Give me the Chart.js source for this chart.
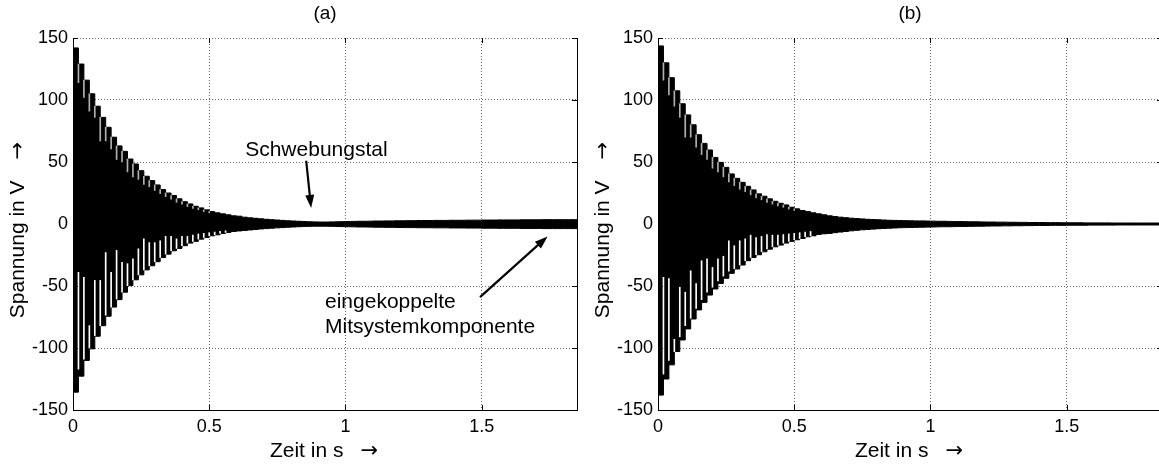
<!DOCTYPE html>
<html>
<head>
<meta charset="utf-8">
<script src="https://cdn.jsdelivr.net/npm/chart.js"></script>
<style>
  html, body { margin: 0; padding: 0; background: #fff; overflow: hidden; width: 1159px; height: 464px; }
  canvas { position: absolute; top: 0; }
  #chartA { left: 0; }
  #chartB { left: 585px; }
</style>
</head>
<body>
<canvas id="chartA" width="590" height="464"></canvas>
<canvas id="chartB" width="590" height="464"></canvas>
<script>
// one value per 50 Hz period (0.02 s)
const sampleStep = 0.02;

const upperA = [142, 129, 116, 105, 95, 86, 78, 70, 63, 58.6, 52.4, 48.4, 43, 38.5, 35, 31.5, 27.8, 25, 23, 20.3,
  18, 16.2, 14.3, 13, 11.4, 10, 9, 8.2, 7.4, 6.6, 6.3, 5.5,
  5.0, 4.6, 4.2, 3.8, 3.5, 3.2, 2.9, 2.6, 2.4, 2.2,
  2.0, 1.8, 1.7, 1.6, 1.6, 1.7, 1.8, 1.9, 2.0, 2.1,
  2.2, 2.2, 2.3, 2.4, 2.4, 2.5, 2.5, 2.6, 2.6, 2.7,
  2.7, 2.8, 2.8, 2.8, 2.9, 2.9, 2.9, 3.0, 3.0, 3.0,
  3.1, 3.1, 3.1, 3.2, 3.2, 3.2, 3.3, 3.3, 3.3, 3.3,
  3.4, 3.4, 3.4, 3.4, 3.5, 3.5, 3.5, 3.5, 3.5, 3.5, 3.5];
const lowerA = [-135.6, -122.7, -110, -100.7, -90.5, -82, -74.4, -67, -61, -55, -49.7, -45, -41, -37, -33.7, -30.4,
  -27, -24.3, -21.6, -19.7, -17.5, -15.4, -14, -12.2, -10.9, -9.5, -8.7, -7.6, -6.8, -6, -5.6, -5.2,
  -4.8, -4.4, -4.0, -3.7, -3.4, -3.1, -2.9, -2.6, -2.4, -2.2,
  -2.0, -1.9, -1.8, -1.8, -1.8, -1.9, -2.0, -2.1, -2.2, -2.3,
  -2.4, -2.4, -2.5, -2.6, -2.6, -2.7, -2.7, -2.8, -2.8, -2.9,
  -2.9, -3.0, -3.0, -3.0, -3.1, -3.1, -3.1, -3.2, -3.2, -3.2,
  -3.3, -3.3, -3.3, -3.4, -3.4, -3.4, -3.5, -3.5, -3.5, -3.5,
  -3.6, -3.6, -3.6, -3.6, -3.7, -3.7, -3.7, -3.7, -3.7, -3.7, -3.7];

const upperB = [143.6, 130, 118, 107.4, 97, 88, 80, 72, 65, 59.7, 53.7, 49.7, 45.7, 40.4, 36.8, 33.6, 30.4, 27.5,
  24.3, 22.4, 20.3, 18.3, 16.7, 15.4, 13.5, 12.2, 10.9, 10, 9, 8.2, 7.4, 6.6,
  6.0, 5.5, 5.1, 4.7, 4.4, 4.1, 3.8, 3.6, 3.4, 3.2,
  3.0, 2.9, 2.8, 2.7, 2.6, 2.5, 2.5, 2.4, 2.3, 2.2,
  2.2, 2.1, 2.0, 2.0, 1.9, 1.8, 1.8, 1.7, 1.6, 1.6,
  1.5, 1.5, 1.4, 1.4, 1.3, 1.3, 1.2, 1.2, 1.2, 1.1,
  1.1, 1.1, 1.0, 1.0, 1.0, 1.0, 0.9, 0.9, 0.9, 0.9,
  0.9, 0.8, 0.8, 0.8, 0.8, 0.8, 0.8, 0.8, 0.8, 0.8, 0.8];
const lowerB = [-138, -125, -113.6, -102.8, -93.5, -84.6, -76.6, -69.3, -63.2, -57.3, -52.4, -47.9, -43.8, -39.8,
  -36.3, -33.1, -29.6, -27, -24.8, -22.4, -20.3, -18.4, -17, -15.4, -14, -12.7, -11.7, -10.3, -9.5, -8.4, -7.9, -7.6,
  -7.0, -6.5, -6.0, -5.5, -5.1, -4.7, -4.4, -4.1, -3.8, -3.6,
  -3.4, -3.2, -3.0, -2.9, -2.8, -2.7, -2.6, -2.5, -2.4, -2.3,
  -2.2, -2.2, -2.1, -2.0, -2.0, -1.9, -1.8, -1.8, -1.7, -1.6,
  -1.6, -1.5, -1.5, -1.4, -1.4, -1.3, -1.3, -1.2, -1.2, -1.2,
  -1.1, -1.1, -1.1, -1.0, -1.0, -1.0, -1.0, -0.9, -0.9, -0.9,
  -0.9, -0.9, -0.8, -0.8, -0.8, -0.8, -0.8, -0.8, -0.8, -0.8, -0.8];

// light gaps between periods (from period 1 on), [from, to] in V
const gapsUpA = [[114, 129], [102, 116], [91, 105], [86, 95], [67, 86], [67, 78], [60.5, 70], [52, 63], [50, 58.6],
  [42, 52.4], [38, 48.4], [36, 43], [32, 38.5], [30, 35], [27, 31.5], [24.5, 27.8], [22, 25], [20, 23],
  [17.5, 20.3], [16, 18], [14, 16.2], [12.5, 14.3], [11.5, 13], [10, 11.4], [9, 10]];
const gapsLowA = [[-117, -39], [-109, -43], [-100, -82], [-90, -45.5], [-82, -45.5], [-73.6, -23], [-67, -39],
  [-60.5, -21.3], [-55, -31], [-49.7, -32], [-45, -28], [-41, -20], [-37, -12], [-33.7, -15], [-30.4, -15],
  [-27, -13.5], [-24.3, -10], [-21.6, -10], [-19.7, -12], [-17.5, -10], [-15.4, -10], [-14, -9], [-12.2, -8],
  [-10.9, -7.5], [-9.5, -7], [-8.7, -6.5], [-7.6, -6], [-6.8, -5.5]];
const gapsUpB = [[116, 130], [104, 118], [95, 107.4], [86, 97], [70, 88], [70, 80], [62, 72], [56, 65], [52, 59.7],
  [45, 53.7], [42, 49.7], [38, 45.7], [34, 40.4], [31, 36.8], [28, 33.6], [26, 30.4], [23.5, 27.5], [21, 24.3],
  [19.5, 22.4], [17.5, 20.3], [16, 18.3], [14.5, 16.7], [13.5, 15.4], [12, 13.5], [11, 12.2]];
const gapsLowB = [[-121, -43], [-110, -44], [-103, -93], [-91, -51], [-82, -55], [-76, -37.7], [-68, -48],
  [-61, -29.6], [-55, -28], [-51, -35], [-46, -28], [-42, -26], [-38, -13.5], [-36, -17.5], [-33, -13.5],
  [-29.6, -12], [-27, -9], [-24.8, -11], [-22.4, -10], [-20, -8.5], [-18.4, -9], [-17, -9], [-15.4, -8.5],
  [-14, -8], [-12.7, -7.5], [-11.7, -7], [-10.3, -6.5], [-9.5, -6]];

const xTicks = [0, 0.5, 1, 1.5];
const yTicks = [-150, -100, -50, 0, 50, 100, 150];
const xLabel = 'Zeit in s';
const yLabel = 'Spannung in V';
const axisArrow = '\u2192';

// annotation texts of panel (a), anchored in data units (s, V)
const notesA = [
  { text: 'Schwebungstal', x: 0.632, y: 55 },
  { text: 'eingekoppelte', x: 0.925, y: -68 },
  { text: 'Mitsystemkomponente', x: 0.925, y: -87.5 }
];
const arrowsA = [
  { from: [0.856, 51], to: [0.874, 13] },
  { from: [1.494, -59], to: [1.742, -10] }
];

const FONT = '"Liberation Sans", Arial, Helvetica, sans-serif';
const ARROW_FONT = '"DejaVu Sans", sans-serif';
Chart.defaults.font.family = FONT;
Chart.defaults.color = '#000';

function toPoints(values) {
  const pts = values.map((v, i) => ({ x: i * sampleStep, y: v }));
  pts.push({ x: values.length * sampleStep, y: values[values.length - 1] });
  return pts;
}

function gapPoints(ranges) {
  return ranges.map((r, i) => ({ x: (i + 1) * sampleStep, y: r }));
}

function labelWithArrow(ctx, text, gap) {
  ctx.font = '21px ' + FONT;
  const w1 = ctx.measureText(text).width;
  ctx.font = '21px ' + ARROW_FONT;
  const w2 = ctx.measureText(axisArrow).width;
  const start = -(w1 + gap + w2) / 2;
  ctx.font = '21px ' + FONT;
  ctx.fillText(text, start, 0);
  ctx.font = '21px ' + ARROW_FONT;
  ctx.fillText(axisArrow, start + w1 + gap, 1);
}

const frame = {
  id: 'frame',
  afterDatasetsDraw(chart, args, opts) {
    const { ctx, chartArea: a, scales: { x, y } } = chart;
    ctx.save();
    ctx.strokeStyle = '#000';
    ctx.lineWidth = 1;
    ctx.beginPath();
    ctx.moveTo(a.left + 0.5, a.top);
    ctx.lineTo(a.left + 0.5, a.bottom + 0.5);
    ctx.lineTo(a.right + 0.5, a.bottom + 0.5);
    ctx.lineTo(a.right + 0.5, a.top);
    yTicks.forEach(v => {
      const py = Math.round(y.getPixelForValue(v)) + 0.5;
      ctx.moveTo(a.left, py); ctx.lineTo(a.left + 5, py);
      ctx.moveTo(a.right, py); ctx.lineTo(a.right - 5, py);
    });
    xTicks.forEach(v => {
      const px = Math.round(x.getPixelForValue(v)) + 0.5;
      ctx.moveTo(px, a.bottom); ctx.lineTo(px, a.bottom - 5);
      ctx.moveTo(px, a.top); ctx.lineTo(px, a.top + 5);
    });
    ctx.stroke();

    ctx.fillStyle = '#000';
    // panel title
    ctx.font = '19px ' + FONT;
    ctx.textAlign = 'center';
    ctx.textBaseline = 'middle';
    ctx.fillText(opts.title, (a.left + a.right) / 2, 14);

    // axis titles with arrow
    ctx.textAlign = 'left';
    ctx.save();
    ctx.translate((a.left + a.right) / 2 - 1, 451);
    labelWithArrow(ctx, xLabel, 17);
    ctx.restore();
    ctx.save();
    ctx.translate(18, (a.top + a.bottom) / 2 + 6);
    ctx.rotate(-Math.PI / 2);
    labelWithArrow(ctx, yLabel, 21);
    ctx.restore();

    // annotations
    ctx.font = '21px ' + FONT;
    ctx.textBaseline = 'alphabetic';
    (opts.notes || []).forEach(n => {
      ctx.fillText(n.text, x.getPixelForValue(n.x), y.getPixelForValue(n.y));
    });
    (opts.arrows || []).forEach(ar => {
      const x0 = x.getPixelForValue(ar.from[0]), y0 = y.getPixelForValue(ar.from[1]);
      const x1 = x.getPixelForValue(ar.to[0]), y1 = y.getPixelForValue(ar.to[1]);
      const ang = Math.atan2(y1 - y0, x1 - x0);
      const head = 13, half = 4.5;
      ctx.lineWidth = 2.2;
      ctx.beginPath();
      ctx.moveTo(x0, y0);
      ctx.lineTo(x1 - Math.cos(ang) * head * 0.8, y1 - Math.sin(ang) * head * 0.8);
      ctx.stroke();
      ctx.beginPath();
      ctx.moveTo(x1, y1);
      ctx.lineTo(x1 - Math.cos(ang) * head - Math.sin(ang) * half, y1 - Math.sin(ang) * head + Math.cos(ang) * half);
      ctx.lineTo(x1 - Math.cos(ang) * head + Math.sin(ang) * half, y1 - Math.sin(ang) * head - Math.cos(ang) * half);
      ctx.closePath();
      ctx.fill();
    });
    ctx.restore();
  }
};

function makePanel(id, upper, lower, gapsUp, gapsLow, title, notes, arrows) {
  return new Chart(document.getElementById(id), {
    type: 'line',
    data: {
      datasets: [
        { type: 'bar', data: gapPoints(gapsUp), backgroundColor: '#b0b0b0', borderWidth: 0,
          barThickness: 1, grouped: false, order: -2 },
        { type: 'bar', data: gapPoints(gapsLow), backgroundColor: '#ffffff', borderWidth: 0,
          barThickness: 1, grouped: false, order: -1 },
        { data: toPoints(upper), borderColor: '#000', borderWidth: 1, stepped: true, pointRadius: 0, fill: false },
        { data: toPoints(lower), borderColor: '#000', borderWidth: 1, stepped: true, pointRadius: 0,
          fill: '-1', backgroundColor: '#000' }
      ]
    },
    options: {
      responsive: false,
      animation: false,
      events: [],
      layout: { padding: { left: 0, top: 38, right: 13, bottom: 0 } },
      plugins: {
        legend: { display: false },
        tooltip: { enabled: false },
        frame: { title: title, notes: notes, arrows: arrows }
      },
      scales: {
        x: {
          type: 'linear', min: 0, max: 1.85, offset: false,
          afterBuildTicks: s => { s.ticks = xTicks.map(v => ({ value: v })); },
          afterFit: s => { s.height = 54; },
          ticks: { font: { size: 18 }, color: '#000', padding: 6, maxRotation: 0, autoSkip: false,
                   callback: v => String(v) },
          grid: { color: 'rgba(0,0,0,0.6)', lineWidth: 1, drawTicks: false, offset: false },
          border: { display: true, color: '#000', width: 1, dash: [1, 2] }
        },
        y: {
          type: 'linear', min: -150, max: 150,
          afterBuildTicks: s => { s.ticks = yTicks.map(v => ({ value: v })); },
          afterFit: s => { s.width = 73; },
          ticks: { font: { size: 18 }, color: '#000', padding: 5, callback: v => String(v) },
          grid: { color: 'rgba(0,0,0,0.6)', lineWidth: 1, drawTicks: false },
          border: { display: true, color: '#000', width: 1, dash: [1, 2] }
        }
      }
    },
    plugins: [frame]
  });
}

makePanel('chartA', upperA, lowerA, gapsUpA, gapsLowA, '(a)', notesA, arrowsA);
makePanel('chartB', upperB, lowerB, gapsUpB, gapsLowB, '(b)', [], []);
</script>
</body>
</html>
